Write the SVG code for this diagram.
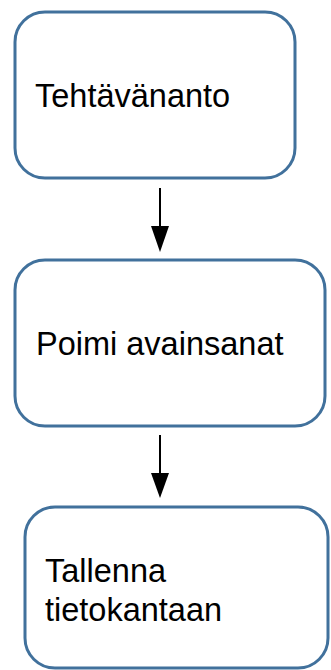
<svg xmlns="http://www.w3.org/2000/svg" width="331" height="670" viewBox="0 0 331 670">
  <style>
    .box { fill: #ffffff; stroke: #41719c; stroke-width: 3; }
    .label { font-family: "Liberation Sans", Arial, sans-serif; font-size: 32.5px; fill: #000000; }
    .edge { stroke: #000000; stroke-width: 2; fill: none; }
    .head { fill: #000000; }
  </style>
  <rect width="331" height="670" fill="#ffffff"/>

  <g id="connectors">
    <line class="edge" x1="160" y1="188" x2="160" y2="226"/>
    <polygon class="head" points="151,226 169,226 160,252"/>
    <line class="edge" x1="160" y1="435" x2="160" y2="473"/>
    <polygon class="head" points="151,473 169,473 160,498"/>
  </g>

  <g id="node-tehtavananto">
    <rect class="box" x="15" y="12" width="280" height="166" rx="30" ry="30"/>
    <text class="label" x="35" y="107">Tehtävänanto</text>
  </g>

  <g id="node-poimi">
    <rect class="box" x="15" y="260" width="310" height="166" rx="30" ry="30"/>
    <text class="label" x="36" y="355">Poimi avainsanat</text>
  </g>

  <g id="node-tallenna">
    <rect class="box" x="25" y="507" width="303" height="161" rx="30" ry="30"/>
    <text class="label" x="45" y="582">Tallenna</text>
    <text class="label" x="45" y="621">tietokantaan</text>
  </g>
</svg>
